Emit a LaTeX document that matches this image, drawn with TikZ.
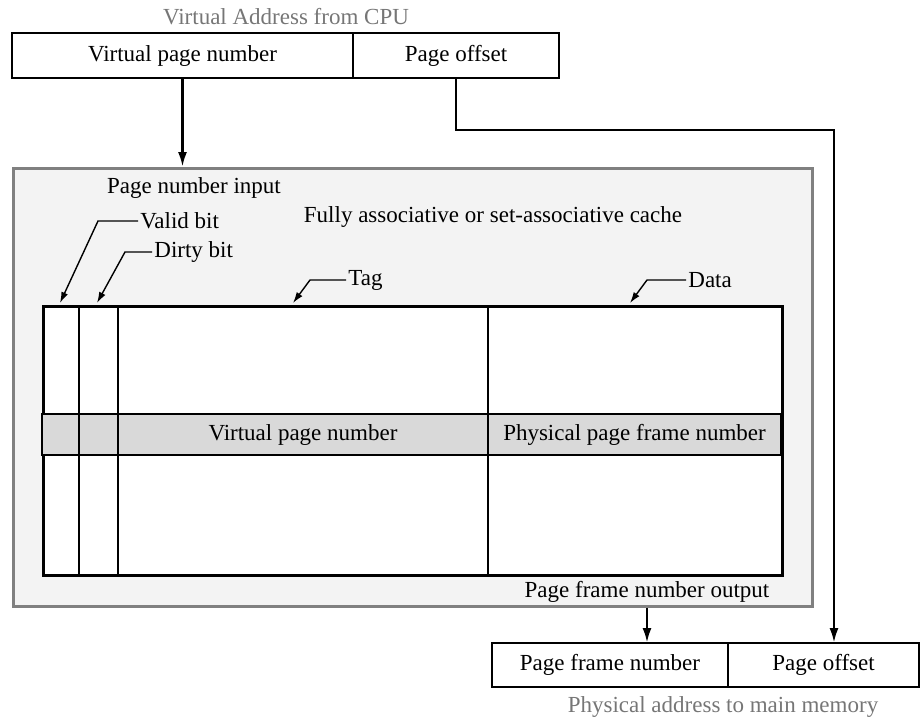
\documentclass[tikz,border=0pt]{standalone}
\usepackage{fontspec}
\setmainfont{Liberation Serif}
\usetikzlibrary{arrows.meta, positioning}

\definecolor{cachefill}{HTML}{F3F3F3}
\definecolor{cacheedge}{HTML}{808080}
\definecolor{rowfill}{HTML}{D9D9D9}
\definecolor{capgray}{HTML}{767676}

\begin{document}
\begin{tikzpicture}[
    x=0.5pt, y=-0.5pt,
    every node/.style={font=\fontsize{11.5}{13}\selectfont},
    field/.style={draw, line width=1.4pt, rectangle, minimum height=22.5pt, inner sep=0pt, outer sep=0pt},
    cell/.style={draw, line width=1.4pt, rectangle, fill=rowfill, minimum height=20.5pt, inner sep=0pt, outer sep=0pt},
    tag/.style={anchor=west, inner sep=1pt},
    caption/.style={text=capgray},
    arrow/.style={-{Latex[length=7.5pt, width=4.5pt]}, line width=1.3pt},
    leader/.style={-{Latex[length=5.5pt, width=3.5pt]}, line width=0.7pt}
]
    \useasboundingbox (0,0) rectangle (922,719);

    % Virtual address
    \node[caption] (vacap) at (286,17) {Virtual Address from CPU};
    \node[field, minimum width=170.5pt, anchor=north west] (vpn) at (12,33) {Virtual page number};
    \node[field, minimum width=103pt, right=0pt of vpn] (poff) {Page offset};

    % Cache
    \node[draw=cacheedge, line width=1.4pt, fill=cachefill, minimum width=399.5pt, minimum height=219pt, inner sep=0pt, anchor=north west] (cache) at (12,167) {};
    \node (pni) at (194,188) {Page number input};
    \node (fac) at (493,217) {Fully associative or set-associative cache};

    % Table
    \node[draw, line width=1.4pt, fill=white, minimum width=369.5pt, minimum height=134.5pt, inner sep=0pt, anchor=north west] (tbl) at (42,305) {};
    \node[cell, minimum width=18.5pt, anchor=north west] (vcell) at (42,414) {};
    \node[cell, minimum width=19.5pt, right=0pt of vcell] (dcell) {};
    \node[cell, minimum width=185pt, right=0pt of dcell] (tcell) {Virtual page number};
    \node[cell, minimum width=146.5pt, right=0pt of tcell] (pcell) {Physical page frame number};
    \foreach \c in {vcell, dcell, tcell}
        \draw[line width=1.4pt] (\c.east |- tbl.north) -- (\c.east |- tbl.south);

    % Field labels
    \node[tag] (vb) at (138,221) {Valid bit};
    \node[tag] (db) at (152,252) {Dirty bit};
    \node[tag] (tg) at (346,280) {Tag};
    \node[tag] (dt) at (686,280) {Data};
    \coordinate (vtip) at (60,303);
    \coordinate (dtip) at (97,303);
    \coordinate (ttip) at (293,303);
    \coordinate (atip) at (630,303);
    \draw[leader] (vb.west) -- ++(-40,0) -- (vtip);
    \draw[leader] (db.west) -- ++(-27,0) -- (dtip);
    \draw[leader] (tg.west) -- ++(-36,0) -- (ttip);
    \draw[leader] (dt.west) -- ++(-39,0) -- (atip);

    % Physical address
    \node (pfo) at (647,592) {Page frame number output};
    \node[field, minimum width=118pt, minimum height=22pt, anchor=north west] (pfn) at (492,643) {Page frame number};
    \node[field, minimum width=95.5pt, minimum height=22pt, right=0pt of pfn] (pout) {Page offset};
    \node[caption] (pacap) at (723,707) {Physical address to main memory};

    % Arrows
    \coordinate (bend) at (834,130);
    \draw[arrow] (vpn.south) -- (vpn.south |- cache.north);
    \draw[arrow] (poff.south) |- (bend) -- (bend |- pout.north);
    \draw[arrow] (pfo |- cache.south) -- (pfo |- pfn.north);

\end{tikzpicture}
\end{document}
